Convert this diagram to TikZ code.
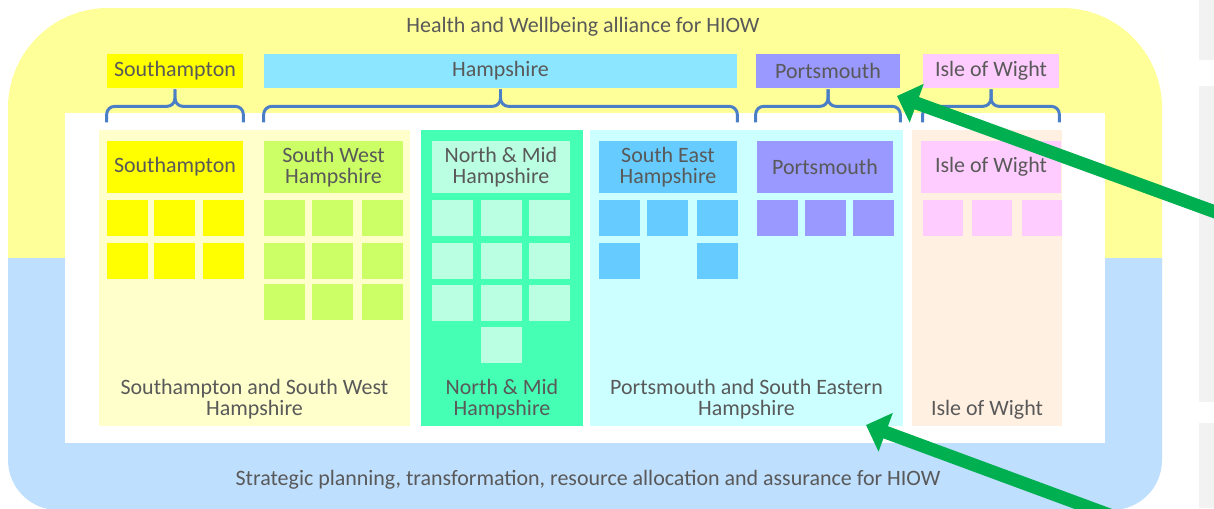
\documentclass[tikz,border=0pt]{standalone}
\usepackage{fontspec}
\setmainfont{Carlito}
\usepackage{xcolor}
\usepackage{tikz}
\usetikzlibrary{positioning, calc, arrows.meta}
\definecolor{bandyellow}{HTML}{FFFF99}
\definecolor{bandblue}{HTML}{BFDFFF}
\definecolor{sidegray}{HTML}{F2F2F2}
\definecolor{txtgray}{HTML}{595959}
\definecolor{sotyellow}{HTML}{FFFF00}
\definecolor{hamblue}{HTML}{8CE6FF}
\definecolor{porlilac}{HTML}{9999FF}
\definecolor{iowpink}{HTML}{FFCCFF}
\definecolor{swhlime}{HTML}{CCFF66}
\definecolor{nmhmint}{HTML}{BBFFE3}
\definecolor{sehblue}{HTML}{66CCFF}
\definecolor{psotfill}{HTML}{FFFFCC}
\definecolor{pnmhfill}{HTML}{44FFB4}
\definecolor{pportfill}{HTML}{CCFFFF}
\definecolor{piowfill}{HTML}{FFF0E2}
\definecolor{braceblue}{HTML}{4A7EC7}
\definecolor{arrgreen}{HTML}{00B050}
\tikzstyle{lbl} = [rectangle, text=txtgray, inner sep=0pt, align=center, font=\fontsize{12.5}{12.2}\selectfont]
\tikzstyle{toplbl} = [lbl, minimum height=0.68cm]
\tikzstyle{head} = [lbl, minimum height=1.04cm]
\tikzstyle{panel} = [rectangle, inner sep=0pt, minimum height=5.92cm]
\tikzstyle{brc} = [draw=braceblue, line width=1.7pt, rounded corners=0.16cm]
\tikzstyle{garrow} = [draw=arrgreen, line width=0.26cm, -{Triangle[length=0.42cm, width=0.8cm]}]

\begin{document}
\begin{tikzpicture}[x=0.02cm, y=-0.02cm]
  \clip (0,0) rectangle (1214,508);
  \fill[white] (0,0) rectangle (1214,508);

  % strips of the next slide on the right
  \fill[sidegray] (1199,0) rectangle (1214,60);
  \fill[sidegray] (1199,86) rectangle (1214,402);
  \fill[sidegray] (1199,423) rectangle (1214,508);

  % outer bands
  \fill[bandyellow] (8,300) -- (8,150) [rounded corners=2cm] -- (8,8) -- (1162,8)
    -- (1162,150) [sharp corners] -- (1162,300) -- cycle;
  \fill[bandblue] (8,258) -- (1162,258) -- (1162,400) [rounded corners=1cm] -- (1162,510)
    -- (8,510) -- (8,400) [sharp corners] -- cycle;
  \fill[white] (65,113) rectangle (1105,443);

  \node[lbl] (alliance) at (583,27) {Health and Wellbeing alliance for HIOW};
  \node[lbl] (strategic) at (588,480) {Strategic planning, transformation, resource allocation and assurance for HIOW};

  % top labels
  \node[toplbl, fill=sotyellow, minimum width=2.72cm] (lsot) at (175,71) {Southampton};
  \node[toplbl, fill=hamblue, minimum width=9.46cm] (lham) at (500.5,71) {Hampshire};
  \node[toplbl, fill=porlilac, minimum width=2.88cm] (lpor) at (828,71) {Portsmouth};
  \node[toplbl, fill=iowpink, minimum width=2.72cm] (liow) at (991,71) {Isle of Wight};

  % braces under the top labels
  \foreach \n in {lsot, lham, lpor, liow} {
    \draw[brc] ($(\n.south west)+(0,34)$) |- ($(\n.south)+(0,18)$) -- ($(\n.south)+(0,1)$);
    \draw[brc] ($(\n.south east)+(0,34)$) |- ($(\n.south)+(0,18)$) -- ($(\n.south)+(0,1)$);
  }

  % panels
  \node[panel, fill=psotfill, minimum width=6.22cm] (psot) at (254.5,278) {};
  \node[panel, fill=pnmhfill, minimum width=3.24cm] (pnmh) at (502,278) {};
  \node[panel, fill=pportfill, minimum width=6.26cm] (pport) at (746.5,278) {};
  \node[panel, fill=piowfill, minimum width=3cm] (piow) at (987,278) {};

  \node[lbl, above=0.14cm of psot.south] (csot) {Southampton and South West\\Hampshire};
  \node[lbl, above=0.14cm of pnmh.south] (cnmh) {North \& Mid\\Hampshire};
  \node[lbl, above=0.14cm of pport.south] (cport) {Portsmouth and South Eastern\\Hampshire};
  \node[lbl, above=0.14cm of piow.south] (ciow) {Isle of Wight};

  % headers inside the panels
  \node[head, fill=sotyellow, minimum width=2.72cm] (hsot) at (175,167) {Southampton};
  \node[head, fill=swhlime, minimum width=2.78cm] (hswh) at (333.5,167) {South West\\Hampshire};
  \node[head, fill=nmhmint, minimum width=2.76cm] (hnmh) at (501,167) {North \& Mid\\Hampshire};
  \node[head, fill=sehblue, minimum width=2.76cm] (hseh) at (668,167) {South East\\Hampshire};
  \node[head, fill=porlilac, minimum width=2.72cm] (hpor) at (825,167) {Portsmouth};
  \node[head, fill=iowpink, minimum width=2.8cm] (hiow) at (991,167) {Isle of Wight};

  % small squares
  \foreach \x in {107,154,203} \foreach \y in {200,243} \fill[sotyellow] (\x,\y) rectangle +(41,36);
  \foreach \x in {264,312,362} \foreach \y in {200,243,284} \fill[swhlime] (\x,\y) rectangle +(41,36);
  \foreach \x/\y in {432/200,481/200,529/200,432/243,481/243,529/243,432/285,481/285,529/285,481/327}
    \fill[nmhmint] (\x,\y) rectangle +(41,36);
  \foreach \x/\y in {599/200,647/200,697/200,599/243,697/243} \fill[sehblue] (\x,\y) rectangle +(41,36);
  \foreach \x in {757,805,853} \fill[porlilac] (\x,200) rectangle +(41,36);
  \foreach \x in {923,972,1022} \fill[iowpink] (\x,200) rectangle +(40,36);

  % green arrows
  \coordinate (tail1) at (1240,221);
  \coordinate (tip1) at (897,96);
  \coordinate (tail2) at (1126,521);
  \coordinate (tip2) at (866,425);
  \draw[garrow] (tail1) -- (tip1);
  \draw[garrow] (tail2) -- (tip2);
\end{tikzpicture}
\end{document}
